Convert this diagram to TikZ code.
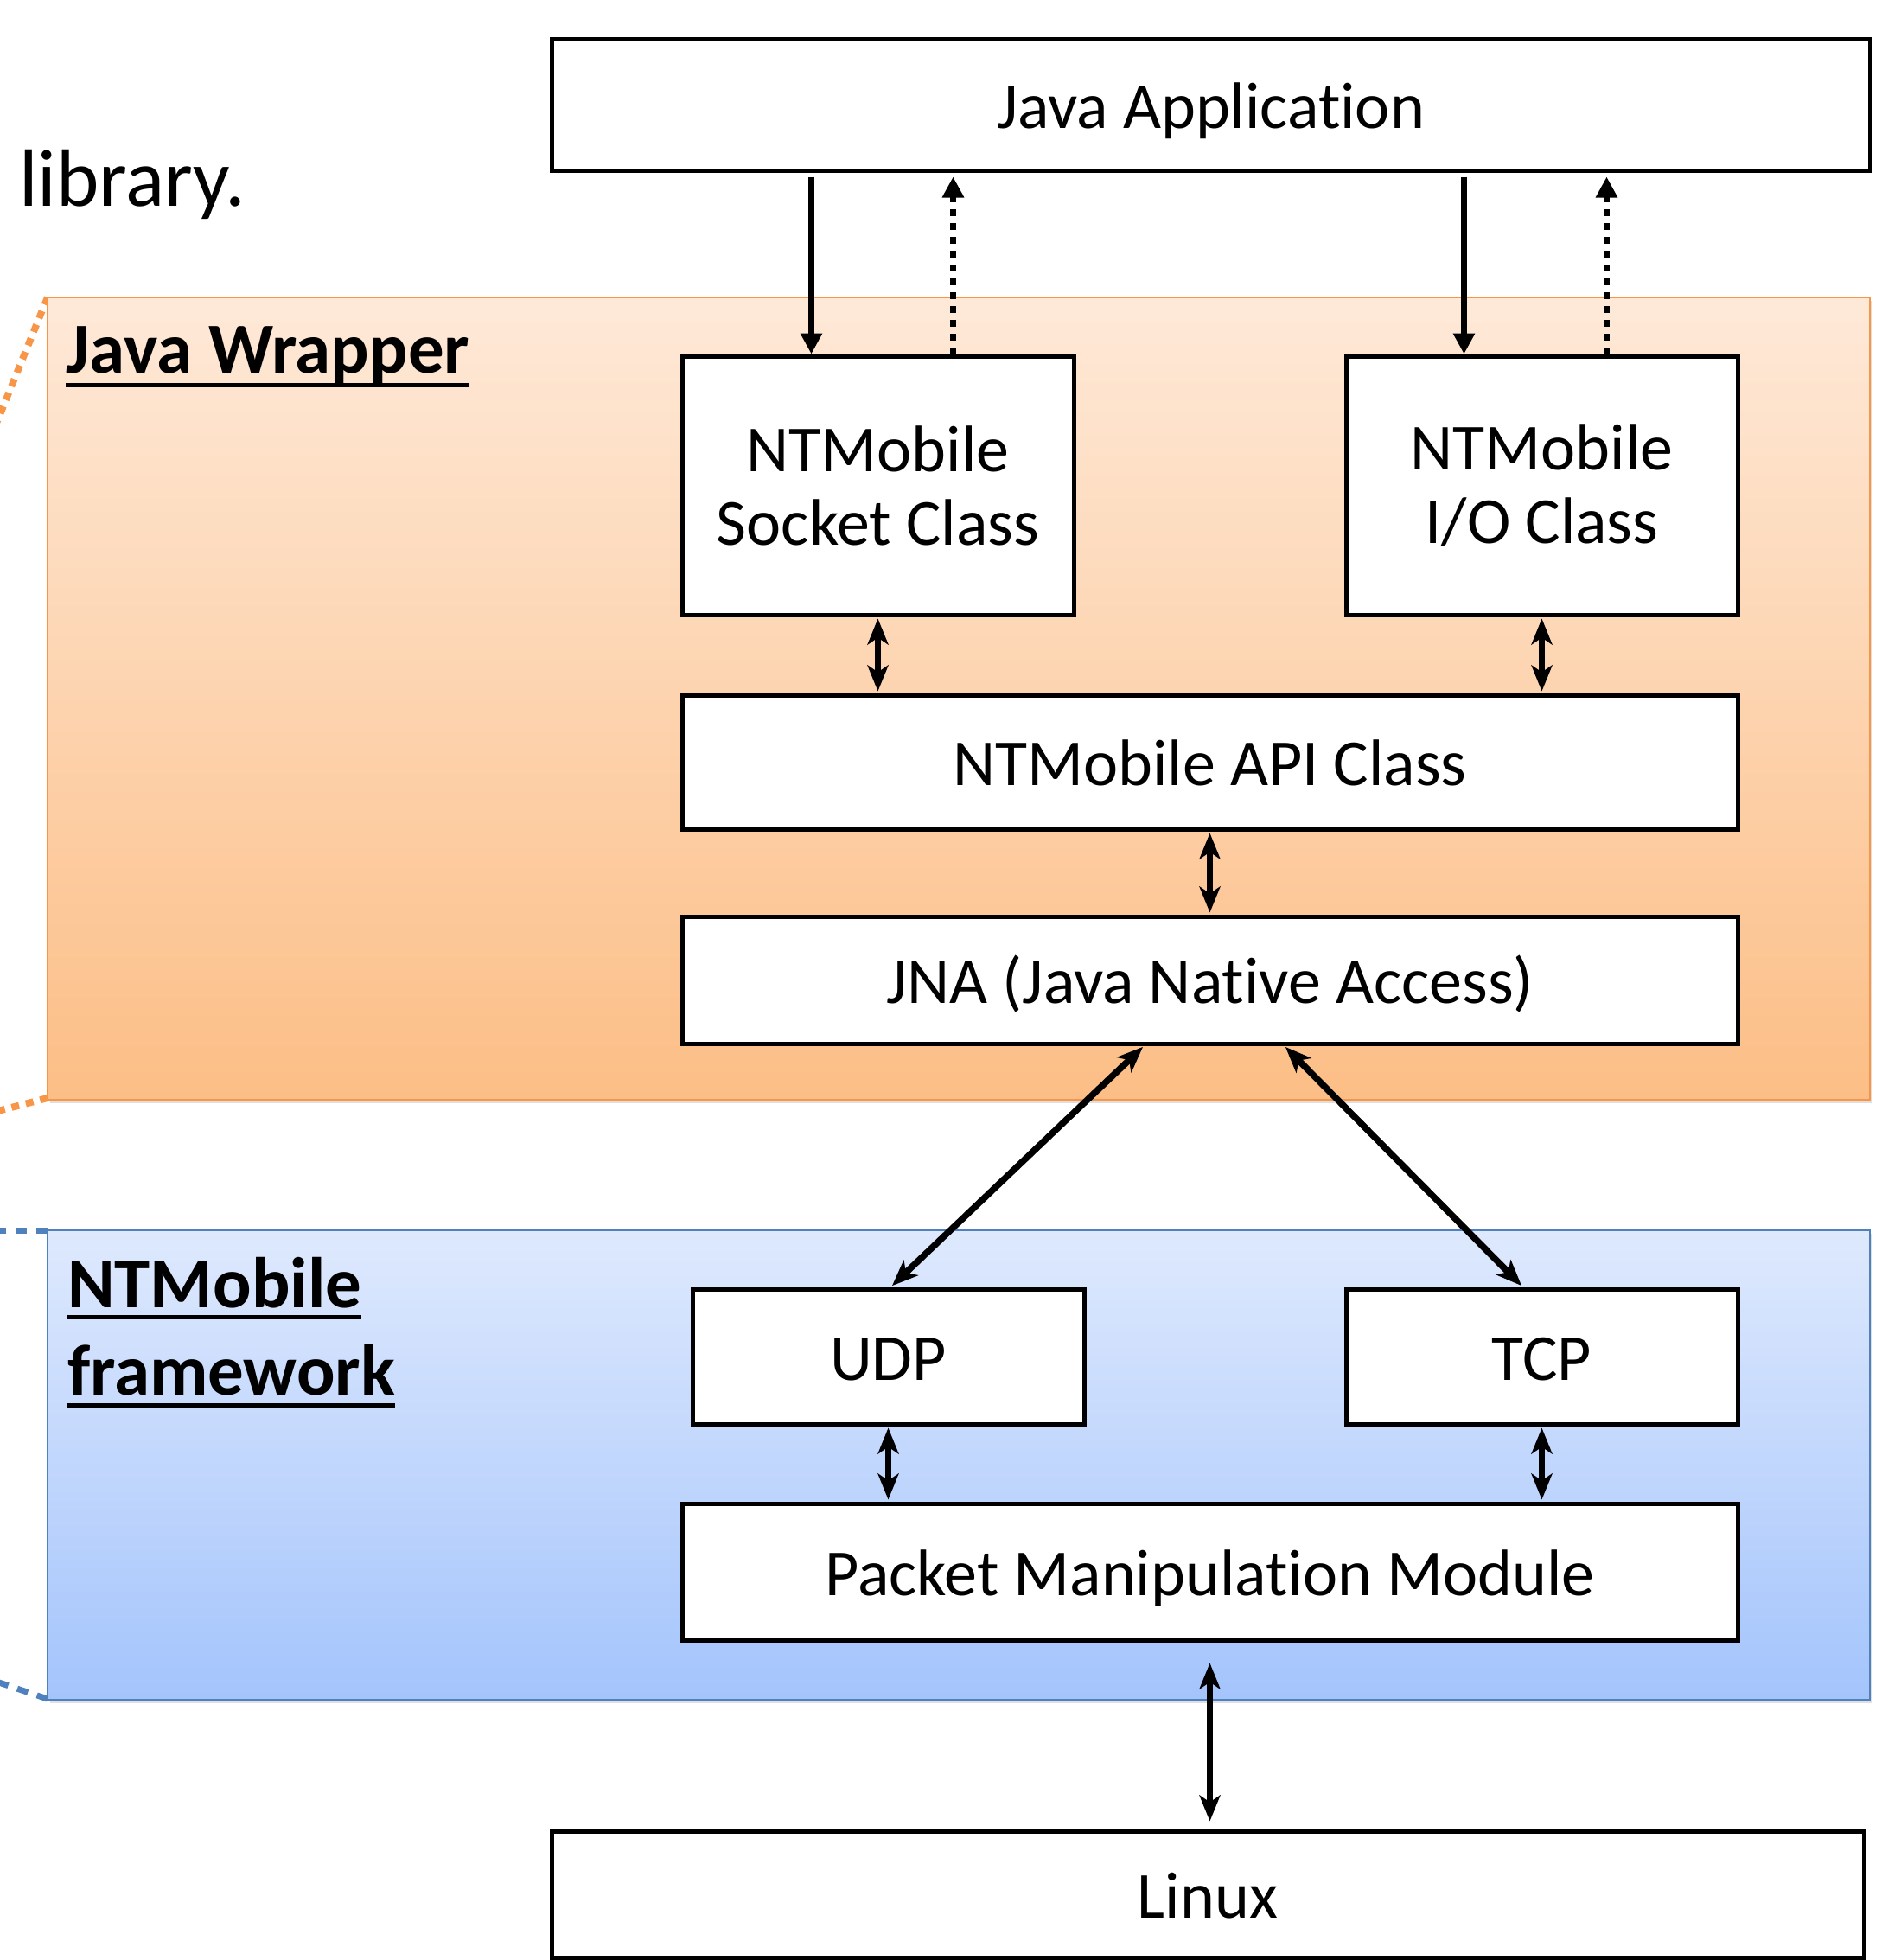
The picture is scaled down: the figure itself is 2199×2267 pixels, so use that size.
\documentclass[tikz,border=0pt]{standalone}
\usepackage{fontspec}
\setmainfont{Carlito}[Ligatures=NoCommon]
\usetikzlibrary{arrows.meta,shadows}
\definecolor{orTop}{RGB}{254,233,216}
\definecolor{orBot}{RGB}{252,190,134}
\definecolor{orLine}{RGB}{247,150,70}
\definecolor{blTop}{RGB}{222,233,253}
\definecolor{blBot}{RGB}{164,196,252}
\definecolor{blLine}{RGB}{79,129,189}
\tikzset{
  boxbase/.style={draw=black, line width=5pt, fill=white, inner sep=0pt,
    font=\fontsize{76}{85}\selectfont},
  box/.style={boxbase, align=center},
  onebox/.style={boxbase, text height=68pt, text depth=14pt},
  onearrow/.style={line width=6.5pt, -{Triangle[length=24pt,width=24pt]}},
  dotarrow/.style={line width=6.5pt, dash pattern=on 8pt off 8pt, -{Triangle[length=24pt,width=24pt]}},
  twoarrow/.style={line width=7.5pt, {Stealth[length=30pt,width=24pt,inset=8pt]}-{Stealth[length=30pt,width=24pt,inset=8pt]}, shorten <=2pt, shorten >=2pt},
  paneltitle/.style={font=\fontsize{83}{101}\selectfont\bfseries, inner sep=0pt, anchor=base west},
  panelshadow/.style={drop shadow={opacity=0.25, shadow xshift=3pt, shadow yshift=-4pt}}
}
\begin{document}
\begin{tikzpicture}[x=1pt,y=-1pt]
\useasboundingbox (0,0) rectangle (2199,2267);
\clip (0,0) rectangle (2199,2267);

% left leader lines
\draw[orLine, line width=8pt, dash pattern=on 9pt off 8pt] (55,344) -- (-10,504);
\draw[orLine, line width=8pt, dash pattern=on 9pt off 8pt] (55,1270) -- (-10,1287);
\draw[blLine, line width=7pt, dash pattern=on 13pt off 11pt] (55,1423) -- (-10,1423);
\draw[blLine, line width=7pt, dash pattern=on 13pt off 11pt] (55,1965) -- (-10,1943);

% panels
\fill[panelshadow, white] (55,344) rectangle (2163,1272);
\shade[top color=orTop, bottom color=orBot] (55,344) rectangle (2163,1272);
\draw[orLine, line width=2.5pt] (55,344) rectangle (2163,1272);
\fill[panelshadow, white] (55,1423) rectangle (2163,1966);
\shade[top color=blTop, bottom color=blBot] (55,1423) rectangle (2163,1966);
\draw[blLine, line width=2.5pt] (55,1423) rectangle (2163,1966);

% text outside
\node[inner sep=0pt, anchor=base west, font=\fontsize{94}{100}\selectfont] (lib) at (22,238) {library.};

% panel titles
\node[paneltitle] (jw) at (76,431) {Java Wrapper};
\draw[line width=5pt] ([yshift=-14pt]jw.base west) -- ([yshift=-14pt]jw.base east);
\node[paneltitle] (fw1) at (78,1512) {NTMobile};
\draw[line width=5pt] ([yshift=-11pt]fw1.base west) -- ([yshift=-11pt]fw1.base east);
\node[paneltitle] (fw2) at (78,1613) {framework};
\draw[line width=5pt] ([yshift=-12pt]fw2.base west) -- ([yshift=-12pt]fw2.base east);

% boxes
\node[onebox, minimum width=1525pt, minimum height=151pt] (app) at (1400.5,121.5) {Java Application};
\node[box, minimum width=453pt, minimum height=299pt] (sock) at (1015.5,561.5) {NTMobile\\Socket Class};
\node[box, minimum width=453pt, minimum height=299pt] (io) at (1783.5,561.5) {NTMobile\\I/O Class};
\node[onebox, minimum width=1221pt, minimum height=155pt] (api) at (1399.5,881.5) {NTMobile API Class};
\node[onebox, minimum width=1221pt, minimum height=147pt] (jna) at (1399.5,1133.5) {JNA (Java Native Access)};
\node[onebox, minimum width=453pt, minimum height=156pt] (udp) at (1027.5,1569) {UDP};
\node[onebox, minimum width=453pt, minimum height=156pt] (tcp) at (1783.5,1569) {TCP};
\node[onebox, minimum width=1221pt, minimum height=158pt] (pmm) at (1399.5,1818) {Packet Manipulation Module};
\node[onebox, minimum width=1518pt, minimum height=146pt] (linux) at (1397,2191) {Linux};

% arrows app <-> classes
\draw[onearrow, shorten <=5pt] ([xshift=-77pt]sock.north |- app.south) -- ([xshift=-77pt]sock.north);
\draw[dotarrow, shorten >=5pt] ([xshift=87pt]sock.north) -- ([xshift=87pt]sock.north |- app.south);
\draw[onearrow, shorten <=5pt] ([xshift=-90pt]io.north |- app.south) -- ([xshift=-90pt]io.north);
\draw[dotarrow, shorten >=5pt] ([xshift=75pt]io.north) -- ([xshift=75pt]io.north |- app.south);

% classes <-> api
\draw[twoarrow] (sock.south) -- (sock.south |- api.north);
\draw[twoarrow] (io.south) -- (io.south |- api.north);
\draw[twoarrow] (api.south) -- (jna.north);

% jna <-> udp/tcp
\draw[twoarrow] ([xshift=-76pt]jna.south) -- ([xshift=3pt]udp.north);
\draw[twoarrow] ([xshift=86pt]jna.south) -- ([xshift=-22pt]tcp.north);

% udp/tcp <-> pmm
\draw[twoarrow] (udp.south) -- (udp.south |- pmm.north);
\draw[twoarrow] (tcp.south) -- (tcp.south |- pmm.north);

% pmm <-> linux
\draw[twoarrow, shorten <=24pt, shorten >=9pt] (pmm.south) -- (pmm.south |- linux.north);
\end{tikzpicture}
\end{document}
